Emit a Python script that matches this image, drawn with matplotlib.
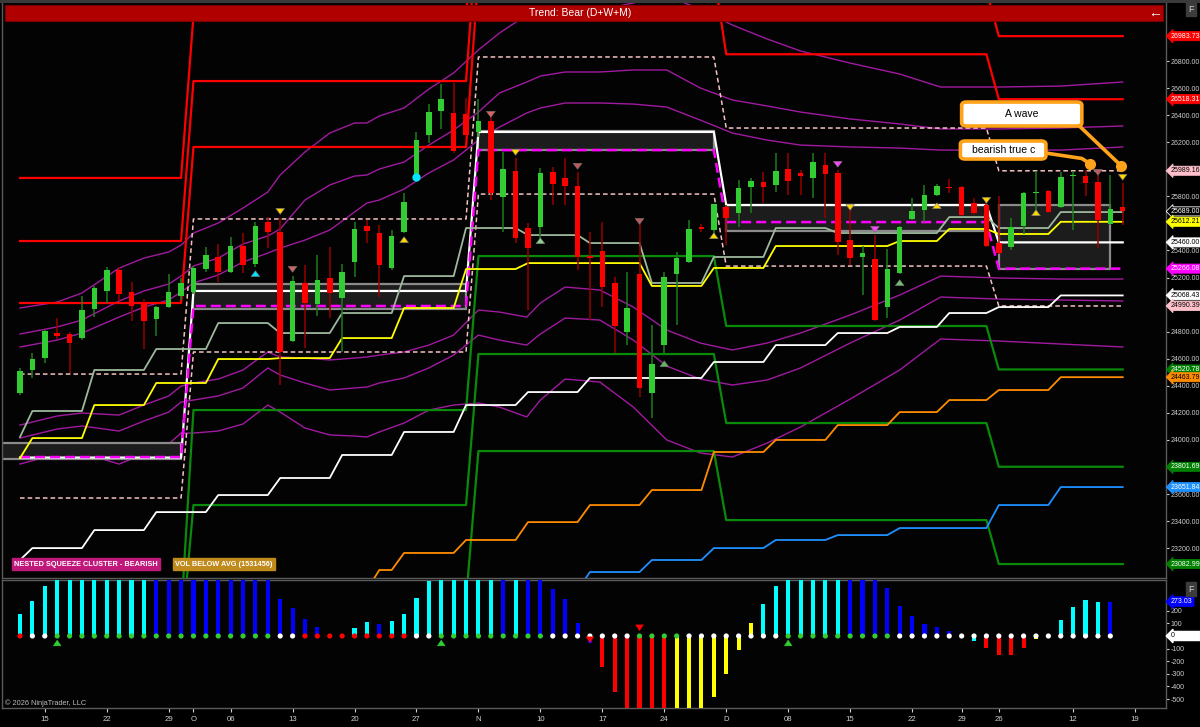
import numpy as np
import matplotlib.pyplot as plt
from matplotlib.patches import Rectangle, FancyBboxPatch
from matplotlib.transforms import blended_transform_factory

plt.rcParams['font.family'] = ['Liberation Sans', 'DejaVu Sans']
plt.rcParams['axes.unicode_minus'] = False
NARROW = ['Liberation Sans Narrow', 'Liberation Sans', 'DejaVu Sans']

# ---- daily candles (one per trading day, 11 Sep 2025 .. 16 Jan 2026) ----
opens = [24347, 24517, 24605, 24790, 24783, 24753, 24967, 25101, 25256, 25093,
         25012, 24893, 24982, 25064, 25093, 25263, 25352, 25241, 25433, 25300,
         25610, 25537, 24731, 25160, 25004, 25197, 25049, 25315, 25581, 25529,
         25271, 25537, 25950, 26253, 26431, 26416, 26409, 26276, 26357, 25795,
         25987, 25566, 25573, 25980, 25936, 25876, 25359, 25396, 25160, 24798,
         25226, 24347, 24701, 25226, 25315, 25573, 25551, 25721, 25677, 25869,
         25906, 25884, 26002, 25973, 25936, 26032, 25973, 25477, 25352, 25337,
         24982, 25234, 25633, 25699, 25810, 25869, 25869, 25751, 25736, 25455,
         25426, 25581, 25825, 25840, 25721, 25950, 25950, 25906, 25596, 25721]
highs = [24532, 24642, 24812, 24901, 24798, 25064, 25138, 25278, 25278, 25167,
         25041, 24990, 25226, 25197, 25285, 25426, 25448, 25500, 25529, 25610,
         25647, 25640, 25211, 25293, 25367, 25426, 25300, 25610, 25625, 25588,
         25551, 25825, 26276, 26482, 26630, 26638, 26527, 26519, 26423, 26128,
         26083, 25603, 26010, 26017, 26083, 25980, 25537, 25610, 25204, 25241,
         25603, 24849, 25241, 25389, 25625, 25596, 25743, 25736, 25921, 25936,
         25980, 26120, 26120, 25995, 26120, 26120, 25995, 25736, 25433, 25514,
         25411, 25581, 25788, 25884, 25891, 25928, 25876, 25788, 25788, 25803,
         25640, 25832, 25987, 25847, 25980, 25987, 25995, 25980, 25958, 25899]
lows = [24332, 24458, 24569, 24746, 24495, 24738, 24908, 25012, 25027, 24879,
        24672, 24768, 24975, 25034, 25078, 25241, 25167, 25234, 25234, 25278,
        25418, 24406, 24724, 24679, 24916, 24901, 24650, 25204, 25455, 25056,
        25256, 25529, 25943, 26194, 26298, 26120, 26246, 26239, 25773, 25537,
        25455, 24960, 25455, 25736, 25736, 25256, 24886, 24982, 24642, 24701,
        24317, 24162, 24642, 24849, 25307, 25537, 25492, 25440, 25573, 25677,
        25751, 25832, 25810, 25810, 25788, 25640, 25367, 25293, 25071, 24879,
        24901, 25226, 25625, 25610, 25803, 25825, 25655, 25662, 25426, 25374,
        25403, 25522, 25662, 25677, 25714, 25551, 25803, 25418, 25588, 25588]
closes = [24509, 24598, 24805, 24768, 24716, 24960, 25123, 25256, 25078, 24990,
          24879, 24982, 25093, 25160, 25271, 25367, 25241, 25433, 25293, 25581,
          25537, 24650, 25175, 25012, 25182, 25086, 25241, 25559, 25544, 25293,
          25507, 25758, 26216, 26423, 26519, 26135, 26253, 26357, 25825, 26002,
          25492, 25418, 25973, 25891, 25876, 25352, 25344, 25130, 24842, 24975,
          24384, 24561, 25204, 25344, 25559, 25559, 25743, 25640, 25862, 25913,
          25869, 25987, 25913, 25950, 26054, 25965, 25463, 25344, 25381, 24886,
          25263, 25573, 25692, 25810, 25876, 25862, 25662, 25677, 25433, 25381,
          25573, 25825, 25832, 25684, 25943, 25958, 25899, 25625, 25707, 25689]

# x-axis labels (bar index of the labelled day)
tick_bars = [2, 7, 12, 14, 17, 22, 27, 32, 37, 42, 47, 52, 57, 62, 67, 72, 76, 79, 85, 90]
tick_text = ['15', '22', '29', 'O', '06', '13', '20', '27', 'N', '10', '17', '24', 'D',
             '08', '15', '22', '29', '26', '12', '19']

# ---- monthly levels (first bar of each month) ----
month_start = [0, 14, 37, 57, 79]
red_1 = [25012, 26165, 27450, 26850, 26518]
red_2 = [25470, 26652, 27900, 27320, 26984]
red_3 = [25936, 27133, 28350, 27780, 27450]
pink_hi = [24487, 25633, 26830, 26305, 25989]
pink_lo = [23571, 24650, 25817, 25285, 24990]
box_hi = [23977, 25152, 26283, 25736, 25736]
box_lo = [23859, 24967, 26142, 25544, 25266]
mid_white = [23870, 25101, 26276, 25736, 25460]
mid_magenta = [23874, 24990, 26142, 25610, 25266]
green_1 = [22700, 24221, 25359, 24842, 24521]
green_2 = [22500, 23519, 24635, 24125, 23802]
green_3 = [22300, 22820, 23918, 23408, 23083]

# ---- weekly step lines: (first bar, value) ----
yellow_at = [0, 1, 6, 11, 16, 21, 26, 31, 36, 41, 51, 56, 61, 71, 75, 79, 84]
yellow_val = [23866, 24014, 24258, 24421, 24598, 24605, 24753, 24975, 25263, 25307,
              25138, 25271, 25433, 25470, 25559, 25522, 25612]
sage_at = [0, 1, 6, 11, 16, 21, 26, 31, 36, 41, 46, 51, 56, 61, 66, 75, 79, 84]
sage_val = [24022, 24214, 24517, 24672, 24864, 24790, 24938, 25211, 25566, 25514,
            25455, 25160, 25352, 25566, 25529, 25647, 25566, 25684]
stair_at = [0, 1, 6, 11, 16, 21, 26, 31, 36, 41, 46, 56, 61, 66, 71, 75, 79, 84]
stair_val = [23113, 23201, 23334, 23467, 23593, 23719, 23889, 24059, 24258, 24354,
             24458, 24576, 24701, 24790, 24835, 24938, 24982, 25068]
orange_at = [0, 26, 29, 31, 36, 41, 46, 51, 56, 61, 66, 71, 75, 79, 84]
orange_val = [22700, 22891, 23039, 23165, 23261, 23393, 23519, 23630, 23911, 24000,
              24110, 24206, 24295, 24369, 24464]
blue_at = [0, 41, 46, 51, 56, 61, 66, 71, 79, 84]
blue_val = [22500, 22891, 23024, 23113, 23201, 23261, 23297, 23349, 23519, 23652]

# ---- purple envelope lines, read at these bar positions ----
env_x = [0, 3, 5, 8, 10, 12, 13, 14, 16, 18, 20, 21, 23, 25, 27, 28, 29, 31, 33, 35, 37,
         38.7, 40.9, 42, 44, 46.8, 49.5, 52.2, 54.9, 57.5, 60.3, 63, 67, 71, 74.3, 79, 84, 89]
env_u3 = [24975, 25019, 25086, 25270, 25344, 25389, 25440, 25529, 25603, 25714, 25832,
          25958, 26128, 26268, 26342, 26342, 26394, 26453, 26593, 26712, 26882, 27007,
          27140, 27170, 27170, 27177, 27229, 27281, 27184, 27066, 26963, 26874, 26785,
          26704, 26608, 26608, 26615, 26645]
env_u2 = [24783, 24835, 24886, 25027, 25101, 25152, 25211, 25285, 25344, 25448, 25507,
          25559, 25773, 25884, 25950, 25958, 26002, 26054, 26179, 26290, 26423, 26564,
          26645, 26689, 26719, 26719, 26734, 26734, 26601, 26512, 26468, 26423, 26372,
          26335, 26298, 26298, 26305, 26320]
env_u1 = [24687, 24738, 24790, 24908, 24982, 25034, 25093, 25160, 25219, 25315, 25381,
          25418, 25477, 25551, 25684, 25751, 25773, 25854, 25973, 26069, 26216, 26312,
          26416, 26453, 26490, 26490, 26482, 26460, 26364, 26268, 26216, 26179, 26165,
          26157, 26142, 26142, 26142, 26165]
env_l1 = [24110, 24177, 24199, 24184, 24258, 24325, 24398, 24421, 24450, 24517, 24650,
          24613, 24605, 24591, 24605, 24613, 24627, 24650, 24701, 24775, 24960, 24945,
          24908, 25012, 25130, 25108, 24982, 24812, 24716, 24665, 24716, 24790, 24923,
          25071, 25211, 25197, 25189, 25189]
env_l2 = [24014, 24081, 24103, 24066, 24140, 24206, 24280, 24295, 24325, 24384, 24532,
          24480, 24421, 24369, 24384, 24391, 24421, 24458, 24532, 24627, 24775, 24738,
          24701, 24783, 24901, 24886, 24738, 24546, 24450, 24406, 24443, 24532, 24716,
          24886, 25056, 25041, 25034, 25027]
env_l3 = [23822, 23896, 23904, 23822, 23896, 23970, 24051, 24051, 24066, 24118, 24258,
          24206, 24088, 24037, 24029, 24022, 24059, 24125, 24221, 24258, 24273, 24243,
          24170, 24295, 24450, 24428, 24243, 24000, 23904, 23874, 23977, 24096, 24302,
          24517, 24746, 24731, 24709, 24687]

# arrows on the price panel: bar, tail, tip, colour
arrow_bar = [19, 21, 22, 31, 38, 40, 42, 45, 50, 52, 56, 66, 67, 69, 71, 74, 78, 82, 87, 89]
arrow_tail = [25204, 25706, 25293, 25463, 26423, 26142, 25455, 26046, 25640, 24546,
              25485, 26054, 25736, 25573, 25145, 25714, 25788, 25662, 25995, 25958]
arrow_tip = [25271, 25647, 25219, 25522, 26364, 26083, 25514, 25980, 25573, 24605,
             25551, 25995, 25677, 25514, 25204, 25773, 25729, 25721, 25936, 25899]
arrow_col = ['#00E5FF', '#FFD700', '#D06464', '#FFD700', '#E06060', '#FFD700', '#8FD18F',
             '#C05A5A', '#C05A5A', '#5FB85F', '#FFD700', '#FF44FF', '#FFD700', '#FF44FF',
             '#6FBF6F', '#FFD700', '#FFD700', '#FFD700', '#C05A5A', '#FFD700']

# right axis price tags
tag_price = [26983.73, 26518.31, 25989.16, 25689.00, 25612.21, 25460.00, 25266.08,
             25068.43, 24990.39, 24520.78, 24463.79, 23801.69, 23651.84, 23082.99]
tag_bg = ['#FF0000', '#FF0000', '#FFC0CB', '#000000', '#FFFF00', '#FFFFFF', '#FF00FF',
          '#FFFFFF', '#FFC0CB', '#008000', '#FF8C00', '#008000', '#1E90FF', '#008000']
tag_fg = ['white', 'white', 'black', 'white', 'black', 'black', 'white',
          'black', 'black', 'white', 'black', 'white', 'white', 'white']

# ---- lower panel histogram ----
hist_val = [173, 275, 400, 600, 600, 600, 600, 600, 600, 600, 600, 600, 600, 600, 600,
            600, 600, 600, 600, 600, 600, 290, 225, 131, 68, 0, 0, 60, 107, 97,
            115, 178, 304, 440, 600, 600, 600, 600, 600, 600, 600, 600, 600, 369, 293,
            105, -55, -246, -445, -650, -650, -650, -650, -650, -650, -650, -484, -301, -110, 100,
            254, 393, 600, 600, 600, 600, 600, 600, 600, 600, 382, 241, 157, 99, 73,
            42, 0, -37, -92, -147, -149, -92, -26, 0, 123, 230, 283, 270, 273.03, 0]
hist_col = list('ccccccccccc' + 'bbbbbbbbbb' + 'bbbb' + 'cc' + 'ccbcc' + 'cccccccbcbbb'
                + 'bbb' + 'rrrrrr' + 'yyyyyyy' + 'ccccccc' + 'bbbbbbbbbb' + 'c'
                + 'rrrr' + 'yy' + 'c' + 'cccbb' + 'c')
dot_col = list('rww' + 'g' * 18 + 'ww' + 'r' * 9 + 'ww' + 'g' * 9 + 'w' * 7 + 'gggg'
               + 'w' * 8 + 'g' * 9 + 'w' * 18)
low_arrow_bar = [3, 34, 62, 46, 50]
low_arrow_tail = [-75, -75, -75, -20, 70]
low_arrow_tip = [-10, -10, -10, -75, 20]
low_arrow_col = ['#32CD32', '#32CD32', '#32CD32', '#FF0000', '#FF0000']


def expand(starts, vals, n):
    out = np.empty(n)
    for k, s in enumerate(starts):
        out[s:] = vals[k]
    return out


n = len(opens)
x = np.arange(n)
o, h, l, c = map(np.array, (opens, highs, lows, closes))

W, H = 1200, 727
fig = plt.figure(figsize=(W / 100, H / 100), dpi=100, facecolor='black')
ax = fig.add_axes([2 / W, 1 - 578 / H, 1164 / W, 578 / H], facecolor='#030303')
ax2 = fig.add_axes([2 / W, 1 - 708 / H, 1164 / W, 128 / H], facecolor='#030303', sharex=ax)

px = 12.39
ax.set_xlim(-18 / px, 1146 / px)
ax.set_ylim(22980, 27251)
ax2.set_ylim(-571, 444)

# monthly levels
for vals, col in [(red_1, '#FF0000'), (red_2, '#FF0000'), (red_3, '#FF0000'),
                  (green_1, '#0A8A0A'), (green_2, '#0A8A0A'), (green_3, '#0A8A0A')]:
    ax.plot(x, expand(month_start, vals, n), color=col, lw=1.6, zorder=3)

# purple envelopes
for env in (env_u3, env_u2, env_u1, env_l1, env_l2, env_l3):
    ax.plot(env_x, env, color='#A01AA0', lw=1.0, zorder=2)

bounds = month_start + [n - 1]
for k in range(len(month_start)):
    x0 = bounds[k] if k > 0 else -2
    x1 = bounds[k + 1] - 1 if k < len(month_start) - 1 else n - 2
    ax.add_patch(Rectangle((x0, box_lo[k]), x1 - x0, box_hi[k] - box_lo[k],
                           facecolor='#1c1c1c', edgecolor='#8a8a8a', lw=1.6, zorder=2.5))

ax.plot(x, expand(month_start, pink_hi, n), color='#F4C2C2', lw=1.1, dashes=(3, 2), zorder=4)
ax.plot(x, expand(month_start, pink_lo, n), color='#F4C2C2', lw=1.1, dashes=(3, 2), zorder=4)
ax.plot(x, expand(month_start, mid_white, n), color='white', lw=1.6, zorder=4)
ax.plot(x, expand(month_start, mid_magenta, n), color='#FF00FF', lw=1.8, dashes=(4, 2), zorder=4)

# weekly steps
ax.plot(x, expand(sage_at, sage_val, n), color='#9DB89D', lw=1.3, zorder=4)
ax.plot(x, expand(yellow_at, yellow_val, n), color='#FFFF00', lw=1.3, zorder=4)
ax.plot(x, expand(stair_at, stair_val, n), color='white', lw=1.3, zorder=4)
ax.plot(x, expand(orange_at, orange_val, n), color='#FF8C00', lw=1.3, zorder=4)
ax.plot(x, expand(blue_at, blue_val, n), color='#1E90FF', lw=1.3, zorder=4)

# candles
up = c >= o
body_col = np.where(up, '#32CD32', '#FF0000')
wick_col = np.where(up, '#1E7A1E', '#990000')
ax.vlines(x, l, h, colors=wick_col, lw=1.1, zorder=6)
ax.bar(x, np.maximum(np.abs(c - o), 10), bottom=np.minimum(o, c), width=0.45,
       color=body_col, zorder=7)
ax.plot([32], [lows[32]], 'o', color='#00E5FF', ms=5, zorder=8)

for b, t0, t1, col in zip(arrow_bar, arrow_tail, arrow_tip, arrow_col):
    ax.annotate('', xy=(b, t1), xytext=(b, t0), zorder=9,
                arrowprops=dict(arrowstyle='simple,head_width=0.9,head_length=0.6,tail_width=0.35',
                                fc=col, ec='#777777', lw=0.4, mutation_scale=7))

# lower panel
hc = {'c': '#00FFFF', 'b': '#0000FF', 'r': '#FF0000', 'y': '#FFFF00'}
dc = {'r': '#FF0000', 'w': '#FFFFFF', 'g': '#32CD32'}
ax2.bar(x, hist_val, width=0.33, color=[hc[k] for k in hist_col], zorder=3)
ax2.scatter(x[:len(dot_col)], np.zeros(len(dot_col)), s=14, c=[dc[k] for k in dot_col], zorder=4,
            linewidths=0)
for b, t0, t1, col in zip(low_arrow_bar, low_arrow_tail, low_arrow_tip, low_arrow_col):
    ax2.annotate('', xy=(b, t1), xytext=(b, t0), zorder=5,
                 arrowprops=dict(arrowstyle='simple,head_width=0.8,head_length=0.6,tail_width=0.3',
                                 fc=col, ec=col, lw=0.3, mutation_scale=7))

# axes styling, right price scale
ax.set_yticks([26800, 26600, 26400, 26200, 25800, 25400, 25200, 24800, 24600, 24400,
               24200, 24000, 23600, 23400, 23200])
ax.yaxis.set_major_formatter(plt.FuncFormatter(lambda v, p: f'{v:.2f}'))
ax.tick_params(axis='x', length=0, labelbottom=False)
ax2.set_yticks([200, 100, -100, -200, -300, -400, -500])
ax2.set_xticks(tick_bars)
ax2.set_xticklabels(tick_text)
for a in (ax, ax2):
    for s in a.spines.values():
        s.set_color('#5a5a5a')
        s.set_linewidth(1)
    a.yaxis.tick_right()
    a.tick_params(axis='y', colors='#cfcfcf', labelsize=5.0, length=2, width=0.8, pad=1.5)
    for t in a.get_yticklabels() + a.get_xticklabels():
        t.set_family(NARROW)
ax2.tick_params(axis='x', colors='#cfcfcf', labelsize=5.6, length=3, width=0.8, pad=3)

tr = blended_transform_factory(ax.transAxes, ax.transData)
for p, bg, fg in zip(tag_price, tag_bg, tag_fg):
    ax.text(1.0 + 5 / 1164, p, f'{p:.2f}', transform=tr, fontsize=5.0, color=fg, va='center',
            ha='left', zorder=20, clip_on=False, family=NARROW,
            bbox=dict(boxstyle='larrow,pad=0.15', fc=bg, ec='white' if bg == '#000000' else bg, lw=0.6))
tr2 = blended_transform_factory(ax2.transAxes, ax2.transData)
for p, lab, bg, fg in [(273.03, '273.03', '#0000FF', 'white'), (0, '0            ', '#FFFFFF', 'black')]:
    ax2.text(1.0 + 5 / 1164, p, lab, transform=tr2, fontsize=5.0, color=fg, va='center', ha='left',
             zorder=20, clip_on=False, family=NARROW,
             bbox=dict(boxstyle='larrow,pad=0.15', fc=bg, ec=bg))

# header banner
fig.patches.append(Rectangle((5 / W, 1 - 21 / H), 1158 / W, 16 / H, transform=fig.transFigure,
                             facecolor='#B00000', edgecolor='#7a0000', lw=0.8, zorder=30))
fig.text(580 / W, 1 - 13 / H, 'Trend: Bear (D+W+M)', color='white', fontsize=7.5, ha='center',
         va='center', zorder=31, family=NARROW)
fig.text(1155 / W, 1 - 13 / H, '\u2190', color='white', fontsize=10, ha='center', va='center',
         zorder=31)
fig.patches.append(Rectangle((0, 1 - 3 / H), 1, 3 / H, transform=fig.transFigure,
                             facecolor='#3a3a3a', zorder=30))
for yy in (9, 589):
    fig.text(1191 / W, 1 - yy / H, 'F', color='#cccccc', fontsize=6.5, ha='center', va='center',
             bbox=dict(boxstyle='square,pad=0.25', fc='#3c3c3c', ec='#3c3c3c'))

# status boxes
fig.text(86 / W, 1 - 564 / H, 'NESTED SQUEEZE CLUSTER - BEARISH', color='white', fontsize=5.3,
         ha='center', va='center', weight='bold',
         bbox=dict(boxstyle='square,pad=0.35', fc='#C0187A', ec='#C0187A'))
fig.text(224 / W, 1 - 564 / H, 'VOL BELOW AVG (1531456)', color='white', fontsize=5.3,
         ha='center', va='center', weight='bold',
         bbox=dict(boxstyle='square,pad=0.35', fc='#C08A1C', ec='#C08A1C'))
fig.text(5 / W, 1 - 703 / H, '\u00a9 2026 NinjaTrader, LLC', color='#bbbbbb', fontsize=5.3,
         ha='left', va='center', family=NARROW)

# drawn annotations
orange = '#FFA31A'
ax.plot([85.5, 88.9], [26320, 26024], color=orange, lw=2.6, zorder=15, solid_capstyle='round')
ax.plot([82.8, 85.7, 86.4], [26120, 26080, 26039], color=orange, lw=2.6, zorder=15)
ax.plot([88.9, 86.4], [26024, 26039], 'o', color=orange, ms=7, zorder=16)
ax.add_patch(FancyBboxPatch((76.0, 26320), 9.7, 177, boxstyle='round,pad=0,rounding_size=0.4',
                            fc='white', ec=orange, lw=2.6, zorder=17, mutation_aspect=60))
ax.text(80.85, 26408, 'A wave', color='black', fontsize=7.5, ha='center', va='center', zorder=18)
ax.add_patch(FancyBboxPatch((75.9, 26076), 6.9, 133, boxstyle='round,pad=0,rounding_size=0.4',
                            fc='white', ec=orange, lw=2.6, zorder=17, mutation_aspect=60))
ax.text(79.35, 26142, 'bearish true c', color='black', fontsize=7.5, ha='center', va='center',
        zorder=18)

fig.savefig('out.png', dpi=100, facecolor='black')
